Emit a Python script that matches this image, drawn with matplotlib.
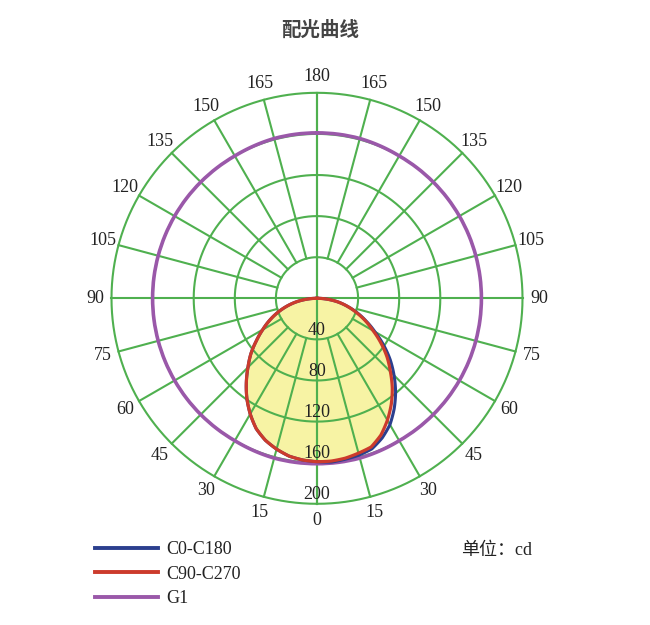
import numpy as np
import matplotlib
matplotlib.use("Agg")
import matplotlib.pyplot as plt
from matplotlib.lines import Line2D

# ---------------- data ----------------
angles = [0, 5, 10, 15, 20, 25, 30, 35, 40, 45, 50, 55, 60, 65, 70, 75, 80, 85, 90,
          105, 120, 135, 150, 165, 180]
# C90-C270 (red) : right half / left half (cd)
c90_right = [159, 159, 158, 156, 154, 147, 137, 126, 114, 101, 89, 76, 63, 52, 41, 31, 21, 10, 0,
             0, 0, 0, 0, 0, 0]
c90_left = [159, 158, 156, 152, 147, 140, 130, 119, 107, 95, 84, 72, 61, 51, 41, 31, 21, 10, 0,
            0, 0, 0, 0, 0, 0]
# C0-C180 (blue)
c0_right = [160, 160, 159, 158, 156, 150, 142, 131, 119, 106, 93, 79, 65, 53, 42, 31, 21, 10, 0,
            0, 0, 0, 0, 0, 0]
c0_left = [159, 158, 156, 152, 147, 140, 130, 119, 107, 95, 84, 72, 61, 51, 41, 31, 21, 10, 0,
           0, 0, 0, 0, 0, 0]
# G1 (purple)
g1_angles = [0, 15, 30, 45, 60, 75, 90, 105, 120, 135, 150, 165, 180]
g1_values = [161, 161, 160, 160, 160, 160, 160, 160, 160, 160, 160, 161, 161]

ring_values = [40, 80, 120, 160, 200]
angle_ticks = list(range(0, 181, 15))
series_labels = ["C0-C180", "C90-C270", "G1"]
title = "配光曲线"
unit_text = "单位：cd"

# ---------------- style ----------------
GREEN = "#4fb04f"
BLUE = "#2b3f8e"
RED = "#cc3b2c"
PURPLE = "#9a58a9"
FILL = "#f7f3a4"
TXT = "#222222"
SERIF = ["Liberation Serif", "Noto Sans CJK SC", "DejaVu Sans"]

fig = plt.figure(figsize=(6.5, 6.25), dpi=100)
fig.patch.set_facecolor("white")

W, H = 650, 625
cx, cy, R = 317.0, 298.3, 205.5
ax = fig.add_axes([(cx - R) / W, (H - cy - R) / H, 2 * R / W, 2 * R / H], projection="polar")
ax.set_theta_zero_location("S")
ax.set_theta_direction(1)
ax.set_ylim(0, 200)
ax.set_xticks([])
ax.set_yticks([])
ax.grid(False)
ax.spines["polar"].set_visible(False)
ax.patch.set_alpha(0)


def full_curve(ang, right, left):
    a = np.radians(np.asarray(ang, dtype=float))
    th = np.concatenate([-a[::-1], a[1:]])
    r = np.concatenate([np.asarray(left, float)[::-1], np.asarray(right, float)[1:]])
    return th, r


def smooth(artist, steps=40):
    # let the polar transform draw each segment as an arc (library interpolation)
    try:
        artist.get_path()._interpolation_steps = steps
    except Exception:
        pass
    return artist


# fill of C90-C270
th_red, r_red = full_curve(angles, c90_right, c90_left)
poly = ax.fill(th_red, r_red, color=FILL, zorder=1, lw=0)[0]
smooth(poly)

# grid rings
th_c = np.linspace(0, 2 * np.pi, 721)
for rv in ring_values:
    ax.plot(th_c, np.full_like(th_c, rv), color=GREEN, lw=1.5, zorder=2, clip_on=False)
# spokes
for a in angle_ticks:
    for s in (1, -1):
        t = np.radians(s * a)
        r0 = 0 if a in (0, 90, 180) else ring_values[0]
        ax.plot([t, t], [r0, 200], color=GREEN, lw=1.5, zorder=2, clip_on=False)

# curves
th_g, r_g = full_curve(g1_angles, g1_values, g1_values)
smooth(ax.plot(th_g, r_g, color=PURPLE, lw=2.6, zorder=3)[0])
th_b, r_b = full_curve(angles, c0_right, c0_left)
smooth(ax.plot(th_b, r_b, color=BLUE, lw=2.2, zorder=4)[0])
smooth(ax.plot(th_red, r_red, color=RED, lw=2.3, zorder=5)[0])

# ring labels
for rv in ring_values:
    ax.text(0, rv - 9, str(rv), ha="center", va="center", fontsize=13,
            family=SERIF, color=TXT, zorder=6, clip_on=False)

# angle labels
for a in angle_ticks:
    sides = (1,) if a in (0, 180) else (1, -1)
    for s in sides:
        ax.text(np.radians(s * a), 216, str(a), ha="center", va="center", fontsize=13,
                family=SERIF, color=TXT, clip_on=False)

# title
fig.text(320 / W, 1 - 30 / H, title, ha="center", va="center", fontsize=14,
         family=["Noto Sans CJK SC"], weight="bold", color="#444444")

# legend
handles = [Line2D([], [], color=BLUE, lw=2.8),
           Line2D([], [], color=RED, lw=2.8),
           Line2D([], [], color=PURPLE, lw=2.8)]
leg = fig.legend(handles, series_labels, loc="upper left",
                 bbox_to_anchor=(95 / W, 1 - 541 / H), frameon=False,
                 prop={"family": SERIF, "size": 13}, handlelength=3.5,
                 handletextpad=0.45, labelspacing=0.42, borderpad=0, borderaxespad=0)
for t in leg.get_texts():
    t.set_color(TXT)

fig.text(461 / W, 1 - 551 / H, unit_text, ha="left", va="center", fontsize=13,
         family=SERIF, color=TXT)

fig.savefig("out.png", dpi=100, facecolor="white")
